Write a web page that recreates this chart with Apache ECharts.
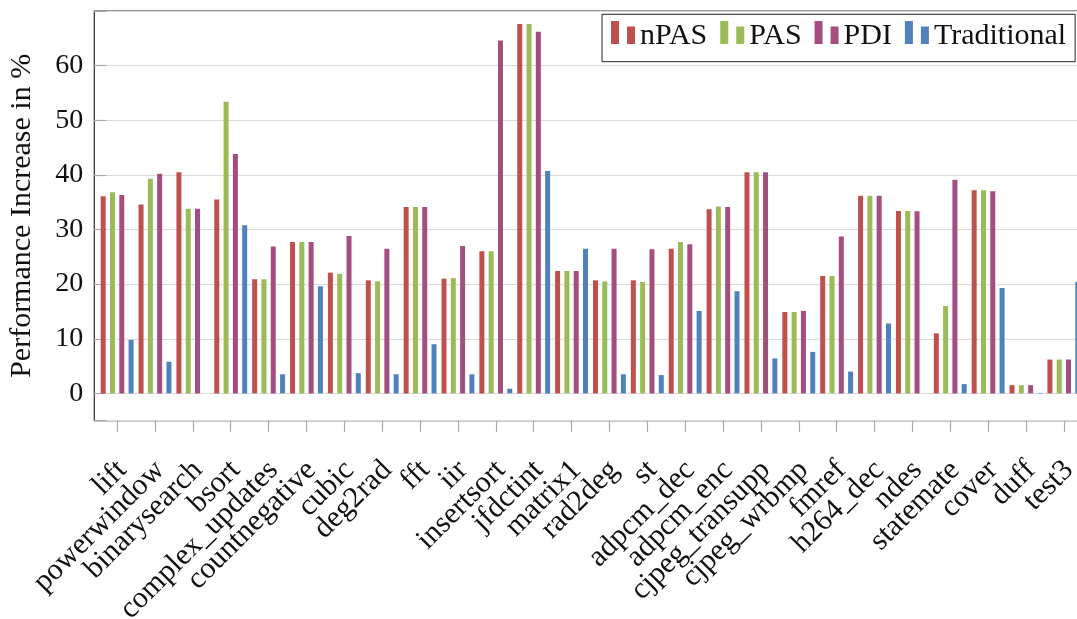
<!DOCTYPE html>
<html>
<head>
<meta charset="utf-8">
<script src="https://cdn.jsdelivr.net/npm/echarts@6/dist/echarts.min.js"></script>
<style>
  html, body { margin: 0; padding: 0; background: #fff; }
  #chart { width: 1077px; height: 619px; }
</style>
</head>
<body>
<div id="chart"></div>
<script>
// Benchmarks on the x axis
const benchmarks = [
  'lift', 'powerwindow', 'binarysearch', 'bsort', 'complex_updates', 'countnegative',
  'cubic', 'deg2rad', 'fft', 'iir', 'insertsort', 'jfdctint', 'matrix1', 'rad2deg',
  'st', 'adpcm_dec', 'adpcm_enc', 'cjpeg_transupp', 'cjpeg_wrbmp', 'fmref',
  'h264_dec', 'ndes', 'statemate', 'cover', 'duff', 'test3'
];

// Performance increase in % per approach
const nPAS = [36.1, 34.6, 40.5, 35.5, 20.9, 27.7, 22.1, 20.7, 34.1, 21.0, 26.0, 67.6, 22.4,
              20.7, 20.7, 26.5, 33.7, 40.5, 14.9, 21.5, 36.2, 33.4, 11.0, 37.2, 1.5, 6.2];
const PAS = [36.8, 39.3, 33.8, 53.4, 20.9, 27.7, 21.9, 20.5, 34.1, 21.1, 26.0, 67.6, 22.4,
             20.5, 20.4, 27.7, 34.2, 40.5, 14.9, 21.5, 36.2, 33.4, 16.0, 37.2, 1.5, 6.2];
const PDI = [36.3, 40.2, 33.8, 43.8, 26.9, 27.7, 28.8, 26.5, 34.1, 27.0, 64.6, 66.2, 22.4,
             26.5, 26.4, 27.3, 34.1, 40.5, 15.1, 28.7, 36.2, 33.35, 39.1, 37.0, 1.5, 6.2];
const Traditional = [9.8, 5.8, 0, 30.8, 3.5, 19.6, 3.7, 3.5, 9.0, 3.5, 0.85, 40.7, 26.5,
                     3.5, 3.35, 15.1, 18.7, 6.4, 7.6, 4.0, 12.8, 0, 1.7, 19.3, 0.1, 20.4];

const yMin = -5;
const yMax = 70;

const FONT = '"Liberation Serif", "DejaVu Serif", serif';
const colors = { nPAS: '#C0504D', PAS: '#9BBB59', PDI: '#A34E7F', Traditional: '#4F81BD' };

// two-bar legend glyph; the trailing moveTo leaves room below the bars
// so the label baseline sits a little under them
const barIcon = 'path://M0,0H8V23H0Z M16,5.5H24V23H16Z M0,31';

function makeSeries(name, values) {
  return {
    name: name,
    type: 'bar',
    xAxisIndex: 1,
    yAxisIndex: 1,
    data: values,
    barWidth: 5,
    barGap: '86%',
    itemStyle: { color: colors[name] },
    emphasis: { disabled: true },
    animation: false
  };
}

const chart = echarts.init(document.getElementById('chart'), null, { renderer: 'canvas' });

chart.setOption({
  animation: false,
  backgroundColor: '#ffffff',
  grid: [
    // frame + y axis (runs a little past the right edge of the page)
    { left: 94.3, top: 11, width: 992.2, height: 409.7, show: true, outerBoundsMode: 'none',
      borderColor: '#2b2b2b', borderWidth: 1.2, backgroundColor: 'transparent' },
    // category band for the bars
    { left: 98.2, top: 11, width: 984.6, height: 409.7, show: false, outerBoundsMode: 'none' }
  ],
  legend: {
    left: 602,
    top: 14.3,
    orient: 'horizontal',
    padding: [6.7, 9, 9.7, 9],
    itemGap: 13,
    itemWidth: 24,
    itemHeight: 31,
    itemStyle: { borderWidth: 0 },
    icon: barIcon,
    backgroundColor: '#ffffff',
    borderColor: '#222222',
    borderWidth: 1,
    borderRadius: 0,
    textStyle: { fontFamily: FONT, fontSize: 30, lineHeight: 30, color: '#111111' },
    itemTextGap: 5,
    data: ['nPAS', 'PAS', 'PDI', 'Traditional']
  },
  xAxis: [
    { type: 'value', gridIndex: 0, show: false, min: 0, max: 1 },
    {
      type: 'category',
      gridIndex: 1,
      position: 'bottom',
      data: benchmarks,
      boundaryGap: true,
      axisLine: { show: false, onZero: false },
      axisTick: { show: true, alignWithLabel: true, inside: false, length: 11,
                  lineStyle: { color: '#a8a8a8', width: 1.2 } },
      axisLabel: {
        interval: 0,
        rotate: 45,
        margin: 40,
        verticalAlign: 'top',
        lineHeight: 14,
        fontFamily: FONT,
        fontSize: 30,
        color: '#111111'
      },
      splitLine: { show: false }
    }
  ],
  yAxis: [
    {
      type: 'value',
      gridIndex: 0,
      min: yMin,
      max: yMax,
      splitNumber: 8,
      name: 'Performance Increase in %',
      nameLocation: 'middle',
      nameGap: 57,
      nameTextStyle: { fontFamily: FONT, fontSize: 30, color: '#111111' },
      axisLine: { show: false },
      axisTick: { show: true, inside: true, length: 12, lineStyle: { color: '#a8a8a8', width: 1.2 } },
      axisLabel: {
        margin: 11,
        fontFamily: FONT,
        fontSize: 28,
        color: '#111111',
        formatter: function (v) {
          return (v >= 0 && v <= 60 && v % 10 === 0) ? String(v) : '';
        }
      },
      splitLine: { show: true, lineStyle: { color: '#dadada', width: 1.2 } }
    },
    {
      type: 'value',
      gridIndex: 1,
      min: yMin,
      max: yMax,
      show: false,
      splitLine: { show: false }
    }
  ],
  series: [
    makeSeries('nPAS', nPAS),
    makeSeries('PAS', PAS),
    makeSeries('PDI', PDI),
    makeSeries('Traditional', Traditional)
  ]
});
</script>
</body>
</html>
